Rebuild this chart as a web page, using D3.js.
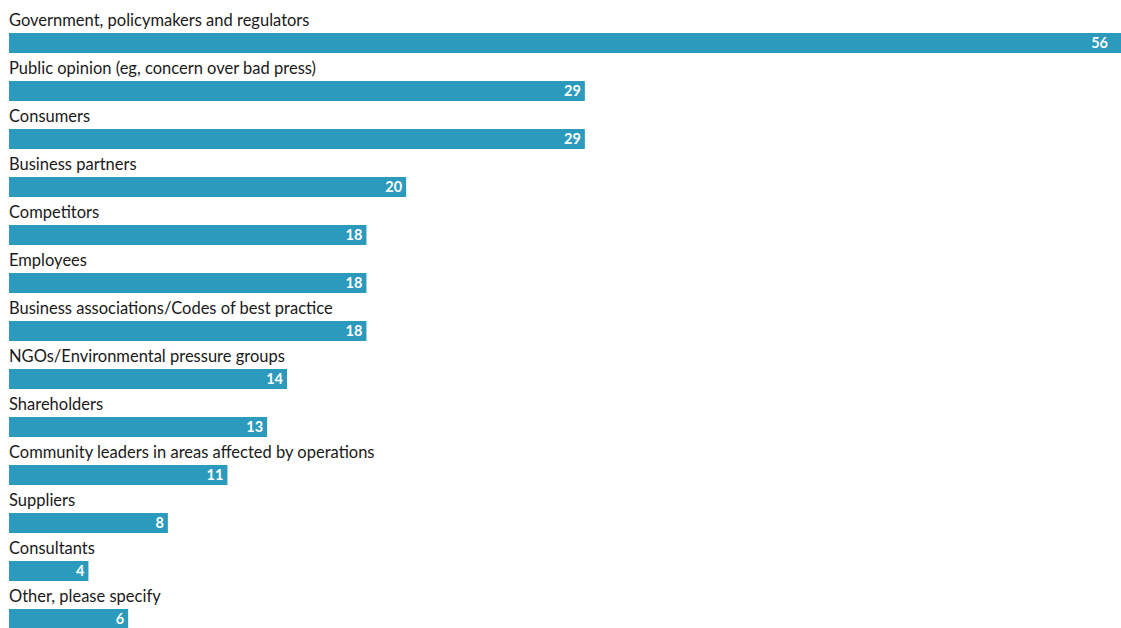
<!DOCTYPE html>
<html lang="en">
<head>
<meta charset="utf-8" />
<script src="https://cdn.jsdelivr.net/npm/d3@7"></script>
<style>
  body { margin: 0; background: #fff; }
  text { font-family: "Lato", sans-serif; }
</style>
</head>
<body>
<div id="chart"></div>
<script>
const categories = [
  "Government, policymakers and regulators",
  "Public opinion (eg, concern over bad press)",
  "Consumers",
  "Business partners",
  "Competitors",
  "Employees",
  "Business associations/Codes of best practice",
  "NGOs/Environmental pressure groups",
  "Shareholders",
  "Community leaders in areas affected by operations",
  "Suppliers",
  "Consultants",
  "Other, please specify"
];
const values = [56, 29, 29, 20, 18, 18, 18, 14, 13, 11, 8, 4, 6];

const width = 1121, height = 628;
const margin = {left: 9, top: 33};
const rowStep = 48, barH = 20;

const svg = d3.select("#chart").append("svg")
  .attr("width", width).attr("height", height);

const x = d3.scaleLinear().domain([0, 56]).range([margin.left, width]);
const y = d3.scaleBand().domain(categories)
  .range([margin.top, margin.top + rowStep * categories.length])
  .paddingInner(0).paddingOuter(0);

const row = svg.selectAll("g.row").data(categories).enter()
  .append("g").attr("class", "row")
  .attr("transform", d => `translate(0,${y(d)})`);

// category label above each bar
row.append("text")
  .attr("x", margin.left)
  .attr("y", -7)
  .attr("fill", "#1a1a1a")
  .style("font-size", "16.5px")
  .text(d => d);

row.append("rect")
  .attr("x", x(0))
  .attr("y", 0)
  .attr("height", barH)
  .attr("width", (d, i) => x(values[i]) - x(0))
  .attr("fill", "#2b9abc");

// value inside bar end
row.append("text")
  .attr("x", (d, i) => Math.min(x(values[i]) - 4, width - 13))
  .attr("y", 15)
  .attr("text-anchor", "end")
  .attr("fill", "#fff")
  .style("font-size", "14.5px")
  .style("font-weight", "bold")
  .text((d, i) => values[i]);
</script>
</body>
</html>
